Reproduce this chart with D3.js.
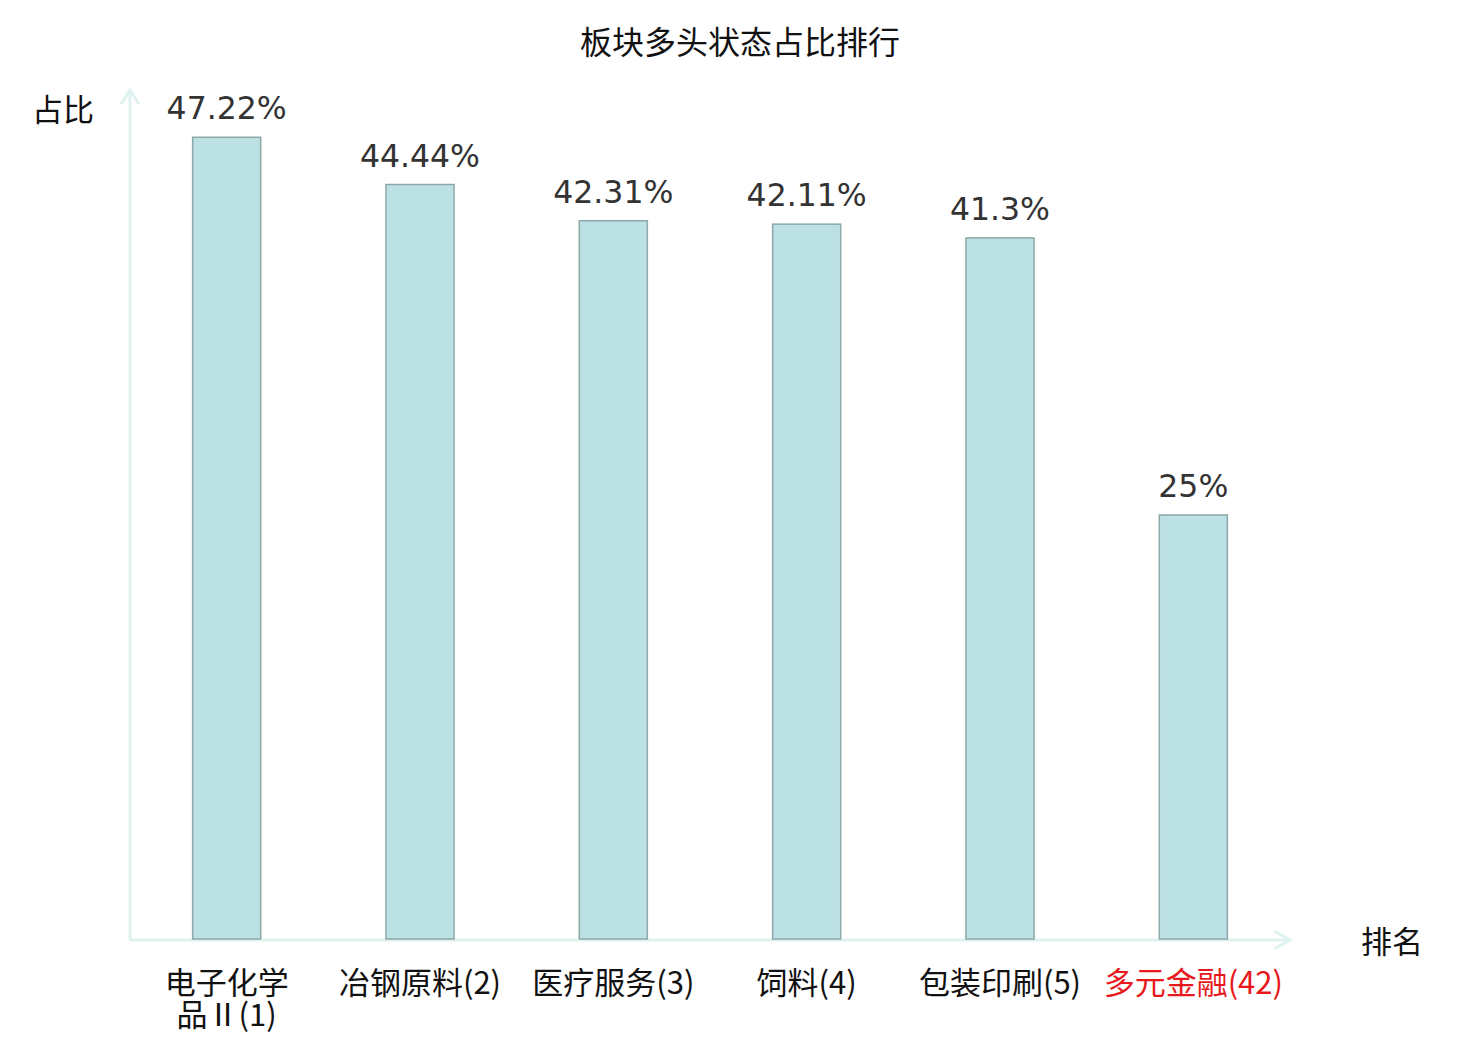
<!DOCTYPE html>
<html>
<head>
<meta charset="utf-8">
<script src="https://cdn.jsdelivr.net/npm/d3@7"></script>
<style>
  body { margin: 0; background: #fff; }
  svg text { font-family: "Noto Sans CJK SC", "DejaVu Sans", sans-serif; }
</style>
</head>
<body>
<div class="chart"></div>
<script>
// 数据
const categories = ['电子化学品Ⅱ(1)', '冶钢原料(2)', '医疗服务(3)', '饲料(4)', '包装印刷(5)', '多元金融(42)'];
const label_lines = [['电子化学', '品Ⅱ(1)'], ['冶钢原料(2)'], ['医疗服务(3)'], ['饲料(4)'], ['包装印刷(5)'], ['多元金融(42)']];
const values = [47.22, 44.44, 42.31, 42.11, 41.3, 25];
const value_labels = ['47.22%', '44.44%', '42.31%', '42.11%', '41.3%', '25%'];
const highlight = ['多元金融(42)'];

const svg_width = 1480;
const svg_height = 1040;
const margin = {top: 90, right: 190, bottom: 100, left: 130};
const chart_width = svg_width - margin.left - margin.right;
const chart_height = svg_height - margin.top - margin.bottom;

const svg = d3.select('.chart')
    .append('svg')
    .attr('width', svg_width)
    .attr('height', svg_height);

const g = svg.append('g')
    .attr('transform', `translate(${margin.left}, ${margin.top})`);

// scale
const x_scale = d3.scaleBand().domain(categories).range([0, chart_width]).padding(0);
const y_scale = d3.scaleLinear().domain([0, 50]).range([chart_height, 0]);
const bar_width = x_scale.bandwidth() * 0.352;

const axis_color = '#dff2f0';

// 坐标轴 (带箭头)
g.append('line')
    .attr('x1', 0).attr('y1', y_scale(0))
    .attr('x2', 0).attr('y2', y_scale(50))
    .style('stroke', axis_color).style('stroke-width', 3);
g.append('path')
    .attr('d', `M-9,${y_scale(50) + 14}L0,${y_scale(50)}L9,${y_scale(50) + 14}`)
    .style('fill', 'none').style('stroke', axis_color).style('stroke-width', 3);

g.append('line')
    .attr('x1', 0).attr('y1', y_scale(0))
    .attr('x2', chart_width).attr('y2', y_scale(0))
    .style('stroke', axis_color).style('stroke-width', 3);
g.append('path')
    .attr('d', `M${chart_width - 16},${y_scale(0) - 9}L${chart_width},${y_scale(0)}L${chart_width - 16},${y_scale(0) + 9}`)
    .style('fill', 'none').style('stroke', axis_color).style('stroke-width', 3);

// 柱子
g.selectAll('.bar')
    .data(values)
    .enter()
    .append('rect')
    .attr('class', 'bar')
    .attr('x', (d, i) => x_scale(categories[i]) + x_scale.bandwidth() / 2 - bar_width / 2)
    .attr('y', d => y_scale(d))
    .attr('width', bar_width)
    .attr('height', d => y_scale(0) - y_scale(d) - 1)
    .style('fill', '#bce1e4')
    .style('stroke', '#8ca8a8')
    .style('stroke-width', 1.5);

// 数值标签
g.selectAll('.value-label')
    .data(values)
    .enter()
    .append('text')
    .attr('class', 'value-label')
    .attr('x', (d, i) => x_scale(categories[i]) + x_scale.bandwidth() / 2)
    .attr('y', d => y_scale(d) - 18)
    .attr('text-anchor', 'middle')
    .style('font-family', '"DejaVu Sans", sans-serif')
    .style('font-size', '31.5px')
    .style('fill', '#333')
    .text((d, i) => value_labels[i]);

// x轴标签
const x_labels = g.selectAll('.x-label')
    .data(categories)
    .enter()
    .append('text')
    .attr('class', 'x-label')
    .attr('x', d => x_scale(d) + x_scale.bandwidth() / 2)
    .attr('y', y_scale(0) + 54)
    .attr('text-anchor', 'middle')
    .style('font-size', '31px')
    .style('fill', d => highlight.includes(d) ? '#e8191c' : '#111');

x_labels.each(function(d, i) {
    d3.select(this).selectAll('tspan')
        .data(label_lines[i])
        .enter()
        .append('tspan')
        .attr('x', x_scale(d) + x_scale.bandwidth() / 2)
        .attr('dy', (t, j) => j === 0 ? 0 : 32)
        .text(t => t);
});

// 轴名
svg.append('text')
    .attr('x', 63).attr('y', 121)
    .attr('text-anchor', 'middle')
    .style('font-size', '31px')
    .style('fill', '#111')
    .text('占比');
svg.append('text')
    .attr('x', 1392).attr('y', 953)
    .attr('text-anchor', 'middle')
    .style('font-size', '31px')
    .style('fill', '#111')
    .text('排名');

// 标题
svg.append('text')
    .attr('x', svg_width / 2).attr('y', 54)
    .attr('text-anchor', 'middle')
    .style('font-size', '32px')
    .style('fill', '#111')
    .text('板块多头状态占比排行');
</script>
</body>
</html>
